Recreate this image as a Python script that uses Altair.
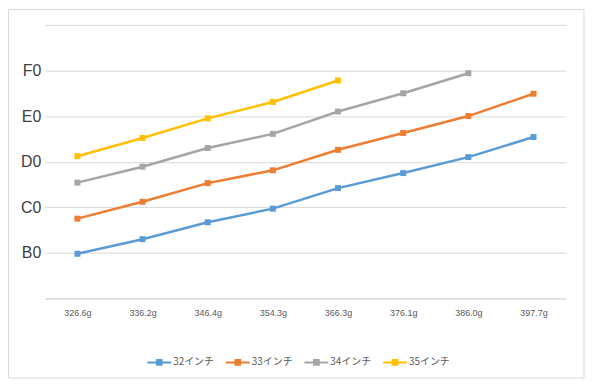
import altair as alt
import pandas as pd

weights = ["326.6g", "336.2g", "346.4g", "354.3g", "366.3g", "376.1g", "386.0g", "397.7g"]
series_names = ["32インチ", "33インチ", "34インチ", "35インチ"]
s32 = [0.98, 1.30, 1.67, 1.97, 2.42, 2.75, 3.10, 3.54]
s33 = [1.75, 2.12, 2.53, 2.81, 3.26, 3.63, 4.00, 4.49]
s34 = [2.54, 2.89, 3.30, 3.61, 4.10, 4.50, 4.94]
s35 = [3.12, 3.52, 3.95, 4.31, 4.78]
y_labels = ["", "B0", "C0", "D0", "E0", "F0", ""]
colors = ["#5B9BD5", "#ED7D31", "#A5A5A5", "#FFC000"]

rows = []
for name, vals in zip(series_names, [s32, s33, s34, s35]):
    for i, v in enumerate(vals):
        rows.append({"weight": weights[i], "series": name, "value": v})
df = pd.DataFrame(rows)

label_expr = "[" + ",".join("'%s'" % s for s in y_labels) + "][datum.value]"

x_enc = alt.X("weight:O", sort=weights, title=None,
              scale=alt.Scale(padding=0.5),
              axis=alt.Axis(labelAngle=0, labelFontSize=9, labelColor="#595959",
                            labelFont="Liberation Sans", ticks=False, domain=True,
                            domainColor="#d9d9d9", labelPadding=10, grid=False))
y_enc = alt.Y("value:Q", title=None,
              scale=alt.Scale(domain=[0, 6], nice=False, zero=True),
              axis=alt.Axis(values=[0, 1, 2, 3, 4, 5, 6], labelExpr=label_expr,
                            labelFontSize=16, labelColor="#404040",
                            labelFont="Liberation Sans", ticks=False, domain=False,
                            gridColor="#d9d9d9", gridWidth=1, labelPadding=4))
legend_symbol = "M-1,0H1M-0.2,-0.2H0.2V0.2H-0.2ZM-0.2,-0.07H0.2M-0.2,0.07H0.2"
color_enc = alt.Color("series:N", sort=series_names, title=None,
                      scale=alt.Scale(domain=series_names, range=colors),
                      legend=alt.Legend(orient="none", direction="horizontal", columns=4,
                                        legendX=102, legendY=326,
                                        symbolType=legend_symbol, symbolSize=576,
                                        symbolStrokeWidth=2, labelFontSize=10,
                                        labelFont="Noto Sans CJK JP", labelColor="#595959",
                                        labelOffset=1, columnPadding=7))

base = alt.Chart(df)
lines = base.mark_line(strokeWidth=2.5).encode(x=x_enc, y=y_enc, color=color_enc)
points = base.mark_point(shape="square", filled=True, size=36, opacity=1).encode(
    x=x_enc, y=y_enc, color=alt.Color("series:N", sort=series_names,
                                      scale=alt.Scale(domain=series_names, range=colors),
                                      legend=None))
border = alt.Chart(alt.Data(values=[{}])).mark_rect(
    fill="transparent", stroke="#d9d9d9", strokeWidth=1).encode(
    x=alt.value(-36.5), x2=alt.value(542), y=alt.value(-15.5), y2=alt.value(355))

chart = alt.layer(border, lines, points).properties(
    width=524, height=275,
    padding={"left": 37, "top": 16, "right": 20, "bottom": 82},
    autosize=alt.AutoSizeParams(type="none"),
).configure_view(strokeWidth=0)

chart.save("out.html", embed_options={"renderer": "svg", "actions": False})
